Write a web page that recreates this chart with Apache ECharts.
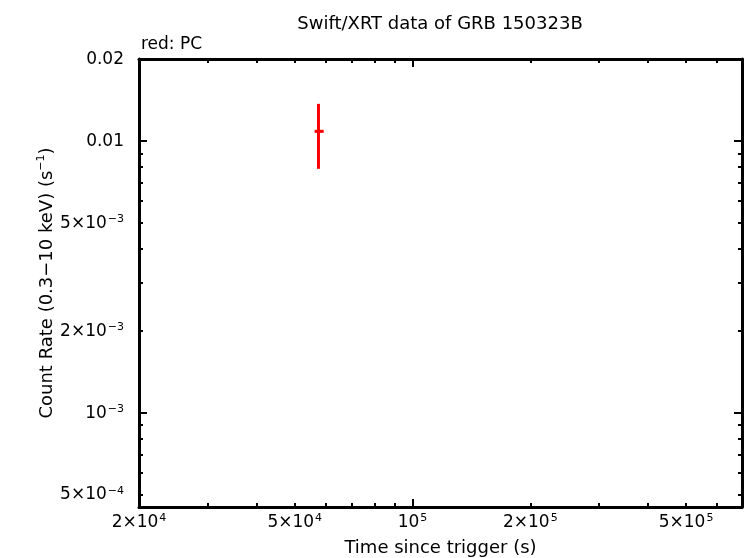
<!DOCTYPE html>
<html>
<head>
<meta charset="utf-8">
<script src="https://cdn.jsdelivr.net/npm/echarts@6/dist/echarts.min.js"></script>
<style>html,body{margin:0;padding:0;background:#fff}#c{width:746px;height:558px}</style>
</head>
<body>
<div id="c"></div>
<script>
// ---- data ----
const times = [57500];
const timeLo = [56200];
const timeHi = [59300];
const rates = [0.01084];
const rateLo = [0.00789];
const rateHi = [0.01368];

const xLabelTicks = [2e4, 5e4, 1e5, 2e5, 5e5];
const xMajorTicks = [1e5];
const xMinorTicks = [2e4,3e4,4e4,5e4,6e4,7e4,8e4,9e4,2e5,3e5,4e5,5e5,6e5];
const yLabelTicks = [5e-4, 1e-3, 2e-3, 5e-3, 1e-2, 2e-2];
const yMajorTicks = [1e-3, 1e-2];
const yMinorTicks = [5e-4,6e-4,7e-4,8e-4,9e-4,2e-3,3e-3,4e-3,5e-3,6e-3,7e-3,8e-3,9e-3,2e-2];
const xMin = 2e4, xMax = 6.95e5, yMin = 4.5e-4, yMax = 0.02;

const FONT = '"DejaVu Sans", "Liberation Sans", Arial, sans-serif';
function sci(v) {
  const e = Math.round(Math.floor(Math.log10(v) + 1e-9));
  const m = Math.round(v / Math.pow(10, e));
  const exp = (e < 0 ? '\u2212' + (-e) : '' + e);
  if (m === 1) return '{b|10}{s|' + exp + '}';
  return '{b|' + m + '\u00d710}{s|' + exp + '}';
}
function yFmt(v) {
  if (Math.abs(v - 0.02) < 1e-9) return '{b|0.02}';
  if (Math.abs(v - 0.01) < 1e-9) return '{b|0.01}';
  return sci(v);
}
const rich = {
  b: { fontSize: 17, fontFamily: FONT, color: '#000', lineHeight: 18, verticalAlign: 'bottom' },
  s: { fontSize: 11, fontFamily: FONT, color: '#000', lineHeight: 18, verticalAlign: 'top', padding: [0,0,0,1] }
};
const lineStyle = { color: '#000', width: 3 };

function xAx(pos, ticks, len, showLine, labels) {
  return {
    type: 'log', position: pos, min: xMin, max: xMax, gridIndex: 0,
    axisLine: { show: showLine, lineStyle: lineStyle },
    axisTick: { show: true, inside: true, length: len, customValues: ticks, lineStyle: { color: '#000', width: 2 } },
    axisLabel: labels ? { show: true, customValues: xLabelTicks, formatter: v => sci(v), rich: rich, margin: 6 } : { show: false },
    splitLine: { show: false }, minorTick: { show: false }
  };
}
function yAx(pos, ticks, len, showLine, labels) {
  return {
    type: 'log', position: pos, min: yMin, max: yMax, gridIndex: 0,
    axisLine: { show: showLine, lineStyle: lineStyle },
    axisTick: { show: true, inside: true, length: len, customValues: ticks, lineStyle: { color: '#000', width: 2 } },
    axisLabel: labels ? { show: true, customValues: yLabelTicks, formatter: v => yFmt(v), rich: rich, margin: 15 } : { show: false },
    splitLine: { show: false }, minorTick: { show: false }
  };
}

const xAxes = [
  Object.assign(xAx('bottom', xMinorTicks, 4, true, true), {
    name: 'Time since trigger (s)', nameLocation: 'middle', nameGap: 32, nameMoveOverlap: false,
    nameTextStyle: { fontSize: 18, fontFamily: FONT, color: '#000' }
  }),
  xAx('bottom', xMajorTicks, 8, false, false),
  xAx('top', xMinorTicks, 4, true, false),
  xAx('top', xMajorTicks, 8, false, false)
];
const yAxes = [
  Object.assign(yAx('left', yMinorTicks, 4, true, true), {
    name: '{n|Count Rate (0.3\u221210 keV) (s}{ns|\u22121}{n|)}', nameLocation: 'middle', nameGap: 83, nameMoveOverlap: false,
    nameTextStyle: { fontFamily: FONT, color: '#000', rich: {
      n: { fontSize: 18, fontFamily: FONT, color: '#000', lineHeight: 20, verticalAlign: 'bottom' },
      ns: { fontSize: 11, fontFamily: FONT, color: '#000', lineHeight: 20, verticalAlign: 'top' }
    } }
  }),
  yAx('left', yMajorTicks, 8, false, false),
  yAx('right', yMinorTicks, 4, true, false),
  yAx('right', yMajorTicks, 8, false, false)
];

const errData = times.map((t, i) => [t, rates[i], timeLo[i], timeHi[i], rateLo[i], rateHi[i]]);

const option = {
  animation: false,
  backgroundColor: '#fff',
  title: [
    { text: 'Swift/XRT data of GRB 150323B', left: 435, top: 10, textAlign: 'center',
      textStyle: { fontSize: 18, fontWeight: 'normal', fontFamily: FONT, color: '#000' } },
    { text: 'red: PC', left: 136, top: 31,
      textStyle: { fontSize: 17, fontWeight: 'normal', fontFamily: FONT, color: '#000' } }
  ],
  grid: { left: 139, right: 4, top: 59, bottom: 51, containLabel: false, outerBoundsMode: 'none' },
  xAxis: xAxes,
  yAxis: yAxes,
  series: [{
    type: 'custom', xAxisIndex: 0, yAxisIndex: 0,
    data: errData,
    encode: { x: 0, y: 1 },
    renderItem: function (params, api) {
      const c = api.coord([api.value(0), api.value(1)]);
      const xl = api.coord([api.value(2), api.value(1)]);
      const xh = api.coord([api.value(3), api.value(1)]);
      const yl = api.coord([api.value(0), api.value(4)]);
      const yh = api.coord([api.value(0), api.value(5)]);
      const st = { stroke: '#ff0000', lineWidth: 3 };
      return { type: 'group', children: [
        { type: 'line', shape: { x1: xl[0], y1: c[1], x2: xh[0], y2: c[1] }, style: st },
        { type: 'line', shape: { x1: c[0], y1: yl[1], x2: c[0], y2: yh[1] }, style: st }
      ]};
    }
  }]
};
echarts.init(document.getElementById('c')).setOption(option);
</script>
</body>
</html>
